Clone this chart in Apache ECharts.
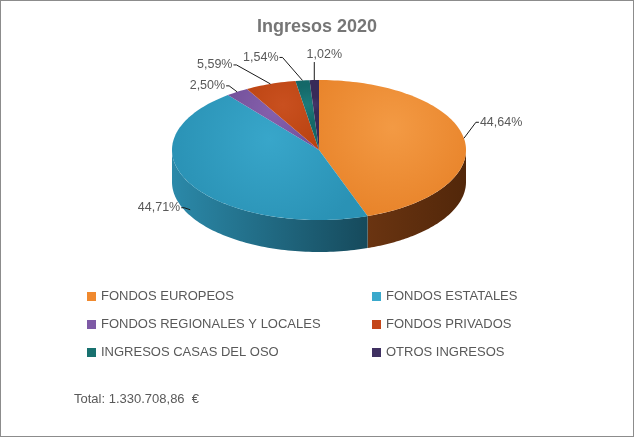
<!DOCTYPE html>
<html><head><meta charset="utf-8">
<script src="https://cdn.jsdelivr.net/npm/echarts@6/dist/echarts.min.js"></script>
<style>html,body{margin:0;padding:0;background:#fff}
#wrap{width:634px;height:437px;box-sizing:border-box;border:1px solid #8c8c8c;}
#main{width:632px;height:435px}</style></head>
<body><div id="wrap"><div id="main"></div></div>
<script>
// ---- data ----
const categories = ['FONDOS EUROPEOS','FONDOS ESTATALES','FONDOS REGIONALES Y LOCALES','FONDOS PRIVADOS','INGRESOS CASAS DEL OSO','OTROS INGRESOS'];
const percentages = [44.64, 44.71, 2.50, 5.59, 1.54, 1.02];
const titleText = 'Ingresos 2020';
const totalText = 'Total: 1.330.708,86  €';

// ---- style ----
const topColors = [
  ['#F39A44','#E67F25'],
  ['#38A6CA','#2A92B5'],
  ['#8560AC','#74519B'],
  ['#C9501F','#B8410F'],
  ['#1D7B7B','#146868'],
  ['#45356A','#382A58']
];
const sideColors = [
  ['#6A3411','#52270A'],
  ['#2B89A9','#164A5C'],
  ['#5C3F7D','#4A3066'],
  ['#8C3310','#6E260A'],
  ['#10504F','#0B3E3D'],
  ['#2D2249','#221A38']
];
const legendColors = ['#F0892E','#3AA9CC','#7E5AA6','#C4461A','#18716F','#3F3061'];
const G = {cx:318, cy:149, rx:147, ry:70, depth:32};
// label leader layout per slice: [elbowDx, elbowDy, side, frontDrop]
const labelLayout = [
  [12,-16,'right',0],
  [-6,-2,'left',26],
  [-8,-6,'left',0],
  [-34,-19,'left',0],
  [-20,-23,'left',0],
  [0,-18,'up',0]
];

const total = percentages.reduce((a,b)=>a+b,0);
const cum = [0];
percentages.forEach((v,i)=>cum.push(cum[i]+v));
const ang = f => f/total*Math.PI*2;
function pt(t, dy){ return [G.cx + G.rx*Math.sin(t), G.cy - G.ry*Math.cos(t) + (dy||0)]; }
function fmt(v){ return v.toFixed(2).replace('.', ',') + '%'; }

function sideItem(params){
  const i = params.dataIndex;
  const a0 = ang(cum[i]), a1 = ang(cum[i+1]);
  const s0 = Math.max(a0, Math.PI/2), s1 = Math.min(a1, Math.PI*1.5);
  if (s0 >= s1) return {type:'group', children:[]};
  const n = 80, pts = [];
  for (let k=0;k<=n;k++){ pts.push(pt(s0+(s1-s0)*k/n)); }
  for (let k=n;k>=0;k--){ pts.push(pt(s0+(s1-s0)*k/n, G.depth)); }
  const c = sideColors[i];
  return {type:'polygon', shape:{points:pts}, silent:true,
    style:{fill:{type:'linear',x:0,y:0,x2:1,y2:0,colorStops:[
      {offset:0,color: c[0]},{offset:1,color: c[1]}]}, stroke:null}};
}
function topItem(params){
  const i = params.dataIndex;
  const a0 = ang(cum[i]), a1 = ang(cum[i+1]);
  const n = Math.max(4, Math.ceil((a1-a0)/(Math.PI*2)*240));
  const pts = [[G.cx,G.cy]];
  for (let k=0;k<=n;k++) pts.push(pt(a0+(a1-a0)*k/n));
  const c = topColors[i];
  return {type:'polygon', shape:{points:pts}, silent:true,
    style:{fill:{type:'radial',x:0.5,y:0.35,r:0.8,colorStops:[
      {offset:0,color:c[0]},{offset:1,color:c[1]}]}, stroke:null}};
}
function labelItem(params){
  const i = params.dataIndex;
  const m = ang((cum[i]+cum[i+1])/2);
  const L = labelLayout[i];
  const a = pt(m, L[3]);
  const e = [a[0]+L[0], a[1]+L[1]];
  let end, tx, ty, align, vAlign='middle';
  if (L[2]==='right'){ end=[e[0]+3,e[1]]; tx=end[0]+1; ty=end[1]; align='left'; }
  else if (L[2]==='left'){ end=[e[0]-3,e[1]]; tx=end[0]-1; ty=end[1]; align='right'; }
  else { end=[e[0],e[1]]; tx=end[0]+10; ty=end[1]-1; align='center'; vAlign='bottom'; }
  return {type:'group', silent:true, children:[
    {type:'polyline', shape:{points:[a,e,end]}, style:{stroke:'#1a1a1a', lineWidth:1, fill:null}},
    {type:'text', x:tx, y:ty, style:{text:fmt(percentages[i]), fill:'#595959',
      font:'12.5px "Liberation Sans Narrow", "Liberation Sans", Arial, sans-serif', align:align, verticalAlign:vAlign}}
  ]};
}

const dataIdx = percentages.map((v,i)=>({name:categories[i], value:v}));
const legendText = {color:'#595959', fontSize:13, fontFamily:'"Liberation Sans", Arial, sans-serif'};
const chart = echarts.init(document.getElementById('main'), null, {renderer:'canvas'});
chart.setOption({
  backgroundColor:'#fff',
  animation:false,
  color: legendColors,
  title:{text:titleText, left:'center', top:12,
    textStyle:{color:'#767676', fontSize:18, fontWeight:'bold', fontFamily:'"Liberation Sans Narrow", "Liberation Sans", Arial, sans-serif'}},
  legend:[
    {orient:'vertical', left:81, top:284, itemWidth:9, itemHeight:9, itemGap:15, icon:'rect', selectedMode:false,
      data:[categories[0],categories[2],categories[4]], textStyle:legendText},
    {orient:'vertical', left:366, top:284, itemWidth:9, itemHeight:9, itemGap:15, icon:'rect', selectedMode:false,
      data:[categories[1],categories[3],categories[5]], textStyle:legendText}
  ],
  graphic:[{type:'text', left:73, top:392, style:{text:totalText, fill:'#595959', font:'13px "Liberation Sans", Arial, sans-serif'}}],
  series:[
    {type:'pie', radius:[0,0], center:[-100,-100], label:{show:false}, labelLine:{show:false}, silent:true, data:dataIdx},
    {type:'custom', coordinateSystem:'none', renderItem:sideItem, data:percentages, z:1},
    {type:'custom', coordinateSystem:'none', renderItem:topItem, data:percentages, z:2},
    {type:'custom', coordinateSystem:'none', renderItem:labelItem, data:percentages, z:3}
  ]
});
</script></body></html>
